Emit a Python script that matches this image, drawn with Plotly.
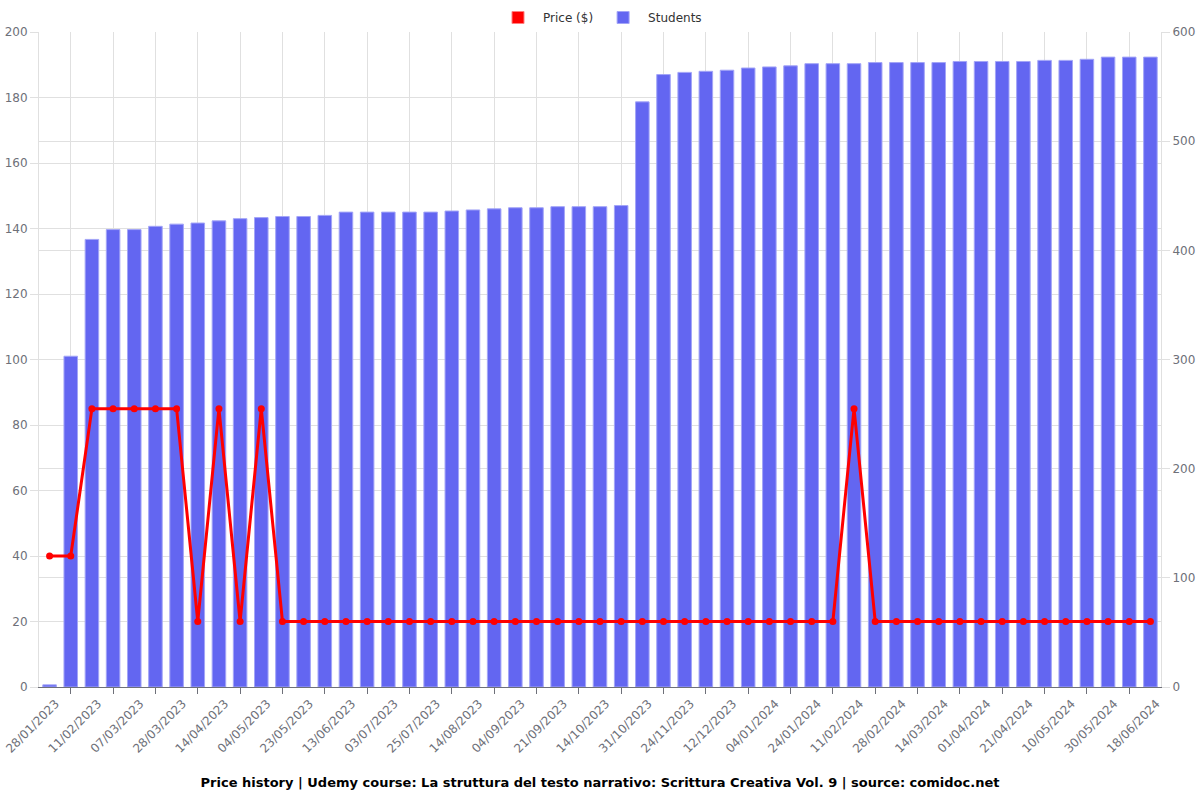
import plotly.graph_objects as go

dates = [
    "28/01/2023", "04/02/2023", "11/02/2023", "24/02/2023", "07/03/2023", "17/03/2023",
    "28/03/2023", "06/04/2023", "14/04/2023", "24/04/2023", "04/05/2023", "14/05/2023",
    "23/05/2023", "02/06/2023", "13/06/2023", "23/06/2023", "03/07/2023", "14/07/2023",
    "25/07/2023", "04/08/2023", "14/08/2023", "25/08/2023", "04/09/2023", "13/09/2023",
    "21/09/2023", "02/10/2023", "14/10/2023", "22/10/2023", "31/10/2023", "11/11/2023",
    "24/11/2023", "03/12/2023", "12/12/2023", "23/12/2023", "04/01/2024", "14/01/2024",
    "24/01/2024", "02/02/2024", "11/02/2024", "20/02/2024", "28/02/2024", "06/03/2024",
    "14/03/2024", "22/03/2024", "01/04/2024", "11/04/2024", "21/04/2024", "01/05/2024",
    "10/05/2024", "20/05/2024", "30/05/2024", "09/06/2024", "18/06/2024",
]

students = [
    2, 303, 410, 419, 419, 422, 424, 425, 427, 429, 430, 431, 431, 432, 435, 435,
    435, 435, 435, 436, 437, 438, 439, 439, 440, 440, 440, 441, 536, 561, 563, 564,
    565, 567, 568, 569, 571, 571, 571, 572, 572, 572, 572, 573, 573, 573, 573, 574,
    574, 575, 577, 577, 577,
]

price = [
    40, 40, 85, 85, 85, 85, 85, 20, 85, 20, 85, 20, 20, 20, 20, 20,
    20, 20, 20, 20, 20, 20, 20, 20, 20, 20, 20, 20, 20, 20, 20, 20,
    20, 20, 20, 20, 20, 20, 85, 20, 20, 20, 20, 20, 20, 20, 20, 20,
    20, 20, 20, 20, 20,
]

title_text = ("Price history | Udemy course: La struttura del testo narrativo: "
              "Scrittura Creativa Vol. 9 | source: comidoc.net")

x = list(range(len(dates)))

BLUE = "#6366f1"
RED = "#ff0000"
GRID = "#e0e0e0"
TICKFONT = dict(family="DejaVu Sans", size=12, color="#6e7079")

fig = go.Figure()

fig.add_trace(go.Bar(
    x=x, y=students, name="Students", yaxis="y",
    marker=dict(color=BLUE, line=dict(color="#a3a5f7", width=1)),
    legendrank=2, hoverinfo="y",
))
# legend swatch for the price series
fig.add_trace(go.Bar(
    x=[None], y=[None], name="Price ($)", yaxis="y2",
    marker=dict(color=RED, line=dict(color="#ff8080", width=1)),
    legendrank=1, showlegend=True,
))
fig.add_trace(go.Scatter(
    x=x, y=price, name="Price ($)", yaxis="y2", mode="lines+markers",
    line=dict(color=RED, width=3),
    marker=dict(color=RED, size=7),
    showlegend=False,
))

fig.update_layout(
    width=1200, height=800,
    margin=dict(l=39, r=39, t=32, b=113, autoexpand=False),
    paper_bgcolor="white", plot_bgcolor="white",
    font=dict(family="DejaVu Sans", size=12, color="#333"),
    barmode="overlay", bargap=0.36,
    showlegend=True,
    legend=dict(orientation="h", x=0.5, xanchor="center", y=1.0, yanchor="bottom",
                font=dict(family="DejaVu Sans", size=12, color="#333"),
                bgcolor="rgba(0,0,0,0)", traceorder="normal", itemwidth=40),
    title=dict(text=title_text, x=0.5, xanchor="center", y=0.022, yanchor="middle",
               font=dict(family="DejaVu Sans", size=13, color="#000", weight="bold")),
    xaxis=dict(
        range=[-0.5, len(dates) - 0.5],
        tickmode="array", tickvals=x[::2], ticktext=dates[::2],
        tickangle=-45, tickfont=TICKFONT, ticks="", showgrid=False,
        ticklabeloverflow="allow", ticklabelshift=6, ticklabelstandoff=4,
        showline=True, linecolor="#6e7079", linewidth=1,
        zeroline=False, automargin=False,
        minor=dict(tickmode="linear", tick0=1, dtick=2, showgrid=True,
                   gridcolor=GRID, gridwidth=1, ticks="outside", ticklen=6,
                   tickcolor="#6e7079"),
    ),
    yaxis=dict(
        range=[0, 600], tickmode="linear", tick0=0, dtick=100, side="right",
        tickfont=TICKFONT, showgrid=True, gridcolor=GRID, zeroline=False,
        ticks="outside", ticklen=8, tickcolor=GRID,
        showline=True, linecolor=GRID, automargin=False,
    ),
    yaxis2=dict(
        range=[0, 200], tickmode="linear", tick0=0, dtick=20, side="left",
        overlaying="y", tickfont=TICKFONT, showgrid=True, gridcolor=GRID,
        zeroline=False, ticks="outside", ticklen=8, tickcolor=GRID,
        showline=True, linecolor=GRID, automargin=False,
    ),
)

fig.write_html("out.html")
